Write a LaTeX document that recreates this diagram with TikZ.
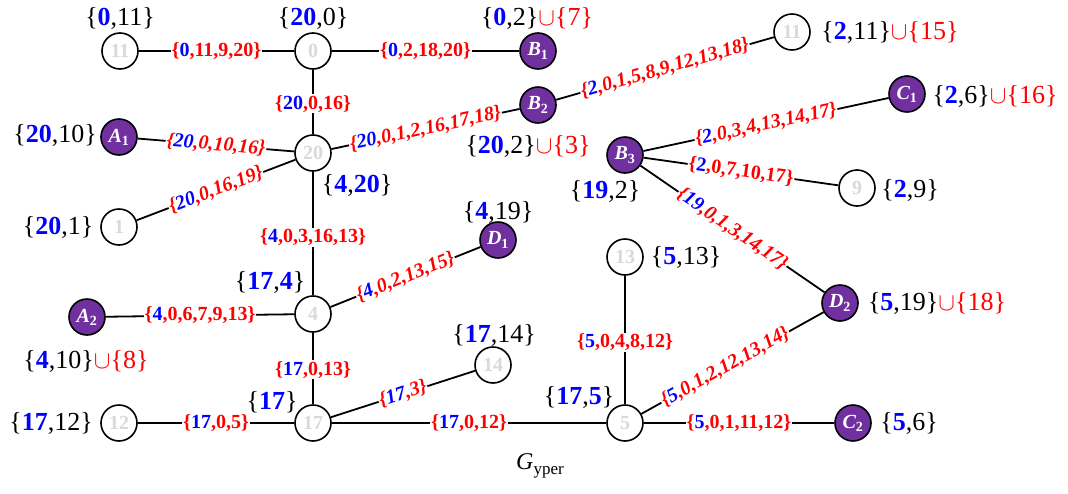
\documentclass[tikz,border=0pt]{standalone}
\usepackage{fontspec}
\setmainfont{Liberation Serif}
\definecolor{pur}{RGB}{112,48,160}
\definecolor{lg}{RGB}{217,217,217}
\newcommand{\bl}[1]{\textcolor{blue}{\textbf{#1}}}
\newcommand{\elab}[2]{\textcolor{red}{\{}\textcolor{blue}{#1}\textcolor{red}{,#2\}}}
\newcommand{\un}[1]{\textcolor{red}{$\cup$\{#1\}}}
\tikzset{
  vtx/.style={circle, draw, line width=1.6pt, minimum size=36pt, inner sep=0pt,
    font=\fontsize{20}{20}\selectfont\bfseries, text=lg, fill=white},
  pv/.style={vtx, fill=pur, text=white, font=\fontsize{20}{20}\selectfont\bfseries\itshape},
  el/.style={fill=white, inner sep=1pt, font=\fontsize{20}{20}\selectfont\bfseries, text=red},
  eli/.style={el, sloped, font=\fontsize{20}{20}\selectfont\bfseries\itshape},
  els/.style={el, sloped},
  nl/.style={inner sep=0pt, font=\fontsize{26}{26}\selectfont},
  edg/.style={line width=1.8pt}
}
\begin{document}
\begin{tikzpicture}[x=1pt,y=-1pt]
\useasboundingbox (0,0) rectangle (1068,493);
% vertices
\node[vtx] (n11) at (120,51) {11};
\node[vtx] (n0) at (313,51) {0};
\node[pv] (B1) at (538,51) {B\textsubscript{\upshape 1}};
\node[vtx] (n20) at (313,153) {20};
\node[pv] (A1) at (119,137) {A\textsubscript{\upshape 1}};
\node[vtx] (n1) at (119,227) {1};
\node[pv] (B2) at (538,105) {B\textsubscript{\upshape 2}};
\node[vtx] (n11b) at (792,32) {11};
\node[pv] (C1) at (907,94) {C\textsubscript{\upshape 1}};
\node[pv] (B3) at (625,155) {B\textsubscript{\upshape 3}};
\node[vtx] (n9) at (857,188) {9};
\node[pv] (D1) at (498,240) {D\textsubscript{\upshape 1}};
\node[vtx] (n4) at (313,314) {4};
\node[pv] (A2) at (87,317) {A\textsubscript{\upshape 2}};
\node[vtx] (n13) at (625,257) {13};
\node[pv] (D2) at (840,303) {D\textsubscript{\upshape 2}};
\node[vtx] (n14) at (493,365) {14};
\node[vtx] (n17) at (313,423) {17};
\node[vtx] (n12) at (119,423) {12};
\node[vtx] (n5) at (625,423) {5};
\node[pv] (C2) at (853,423) {C\textsubscript{\upshape 2}};
% edges
\draw[edg] (n11) -- node[el] {\elab{0}{11,9,20}} (n0);
\draw[edg] (n0) -- node[el] {\elab{0}{2,18,20}} (B1);
\draw[edg] (n0) -- node[el, pos=0.53] {\elab{20}{0,16}} (n20);
\draw[edg] (A1) -- node[eli] {\elab{20}{0,10,16}} (n20);
\draw[edg] (n1) -- node[eli] {\elab{20}{0,16,19}} (n20);
\draw[edg] (n20) -- node[eli] {\elab{20}{0,1,2,16,17,18}} (B2);
\draw[edg] (B2) -- node[eli] {\elab{2}{0,1,5,8,9,12,13,18}} (n11b);
\draw[edg] (n20) -- node[el, pos=0.53] {\elab{4}{0,3,16,13}} (n4);
\draw[edg] (n4) -- node[eli] {\elab{4}{0,2,13,15}} (D1);
\draw[edg] (A2) -- node[el] {\elab{4}{0,6,7,9,13}} (n4);
\draw[edg] (n4) -- node[el, pos=0.52] {\elab{17}{0,13}} (n17);
\draw[edg] (n12) -- node[el] {\elab{17}{0,5}} (n17);
\draw[edg] (n17) -- node[eli] {\elab{17}{3}} (n14);
\draw[edg] (n17) -- node[el] {\elab{17}{0,12}} (n5);
\draw[edg] (n13) -- node[el, pos=0.52] {\elab{5}{0,4,8,12}} (n5);
\draw[edg] (n5) -- node[eli, pos=0.46] {\elab{5}{0,1,2,12,13,14}} (D2);
\draw[edg] (n5) -- node[el] {\elab{5}{0,1,11,12}} (C2);
\draw[edg] (B3) -- node[eli] {\elab{2}{0,3,4,13,14,17}} (C1);
\draw[edg] (B3) -- node[els] {\elab{2}{0,7,10,17}} (n9);
\draw[edg] (B3) -- node[eli] {\elab{19}{0,1,3,14,17}} (D2);
% vertex labels
\node[nl] (l11) at (120,18) {\{\bl{0},11\}};
\node[nl] (l0) at (313,18) {\{\bl{20},0\}};
\node[nl] (lB1) at (537,18) {\{\bl{0},2\}\un{7}};
\node[nl] (l11b) at (890,32) {\{\bl{2},11\}\un{15}};
\node[nl] (lA1) at (55,135) {\{\bl{20},10\}};
\node[nl] (lB2) at (528,146) {\{\bl{20},2\}\un{3}};
\node[nl] (lC1) at (995,96) {\{\bl{2},6\}\un{16}};
\node[nl] (l20) at (357,185) {\{\bl{4},\bl{20}\}};
\node[nl] (l1) at (58,227) {\{\bl{20},1\}};
\node[nl] (lB3) at (605,191) {\{\bl{19},2\}};
\node[nl] (l9) at (910,190) {\{\bl{2},9\}};
\node[nl] (lD1) at (498,212) {\{\bl{4},19\}};
\node[nl] (l13) at (686,257) {\{\bl{5},13\}};
\node[nl] (lD2) at (937,303) {\{\bl{5},19\}\un{18}};
\node[nl] (l4) at (270,282) {\{\bl{17},\bl{4}\}};
\node[nl] (lA2) at (86,361) {\{\bl{4},10\}\un{8}};
\node[nl] (l14) at (494,335) {\{\bl{17},14\}};
\node[nl] (l17) at (272,402) {\{\bl{17}\}};
\node[nl] (l12) at (51,423) {\{\bl{17},12\}};
\node[nl] (l5) at (579,397) {\{\bl{17},\bl{5}\}};
\node[nl] (lC2) at (909,423) {\{\bl{5},6\}};
\node[inner sep=0pt] (title) at (540,466) {\fontsize{24}{24}\selectfont\itshape G\raisebox{-5pt}{\fontsize{17}{17}\selectfont\upshape yper}};
\end{tikzpicture}
\end{document}
